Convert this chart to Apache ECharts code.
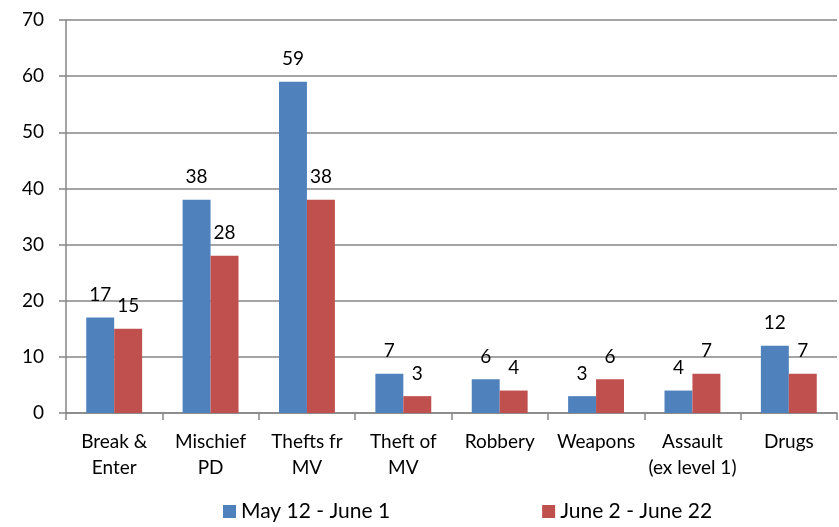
<!DOCTYPE html>
<html>
<head>
<meta charset="utf-8">
<title>Crime counts by category</title>
<script src="https://cdn.jsdelivr.net/npm/echarts@6/dist/echarts.min.js"></script>
<style>
  html, body { margin: 0; padding: 0; background: #fff; }
  #chart { width: 839px; height: 527px; }
</style>
</head>
<body>
<div id="chart"></div>
<script>
var categories = ['Break &\nEnter', 'Mischief\nPD', 'Thefts fr\nMV', 'Theft of\nMV', 'Robbery', 'Weapons', 'Assault\n(ex level 1)', 'Drugs'];
var seriesNames = ['May 12 - June 1', 'June 2 - June 22'];
var period1 = [17, 38, 59, 7, 6, 3, 4, 12];
var period2 = [15, 28, 38, 3, 4, 6, 7, 7];
var colors = ['#4F81BD', '#C0504D'];

var font = 'Lato, "Liberation Sans", sans-serif';
var axisGray = '#868686';

var chart = echarts.init(document.getElementById('chart'));

function barSeries(name, data, color) {
    return {
        name: name,
        type: 'bar',
        data: data,
        barGap: '0%',
        barCategoryGap: '42%',
        itemStyle: { color: color },
        label: {
            show: true,
            position: 'top',
            distance: 13,
            color: '#000',
            fontSize: 19,
            fontFamily: font
        }
    };
}

chart.setOption({
    animation: false,
    grid: { left: 66, right: 2, top: 20, bottom: 114, containLabel: false },
    legend: {
        bottom: 0,
        left: 218,
        itemWidth: 13,
        itemHeight: 13,
        itemGap: 152,
        icon: 'rect',
        textStyle: { fontSize: 21, fontFamily: font, color: '#000' },
        data: seriesNames
    },
    xAxis: {
        type: 'category',
        data: categories,
        axisLine: { lineStyle: { color: axisGray, width: 1.5 } },
        axisTick: { show: true, length: 7, lineStyle: { color: axisGray, width: 1.5 } },
        axisLabel: {
            interval: 0,
            margin: 16,
            color: '#000',
            fontSize: 19,
            lineHeight: 26,
            fontFamily: font
        }
    },
    yAxis: {
        type: 'value',
        min: 0,
        max: 70,
        interval: 10,
        axisLine: { show: true, lineStyle: { color: axisGray, width: 1.5 } },
        axisTick: { show: true, length: 7, lineStyle: { color: axisGray, width: 1.5 } },
        splitLine: { lineStyle: { color: axisGray, width: 1.5 } },
        axisLabel: {
            margin: 22,
            color: '#000',
            fontSize: 19,
            fontFamily: font
        }
    },
    series: [
        barSeries(seriesNames[0], period1, colors[0]),
        barSeries(seriesNames[1], period2, colors[1])
    ]
});
</script>
</body>
</html>
